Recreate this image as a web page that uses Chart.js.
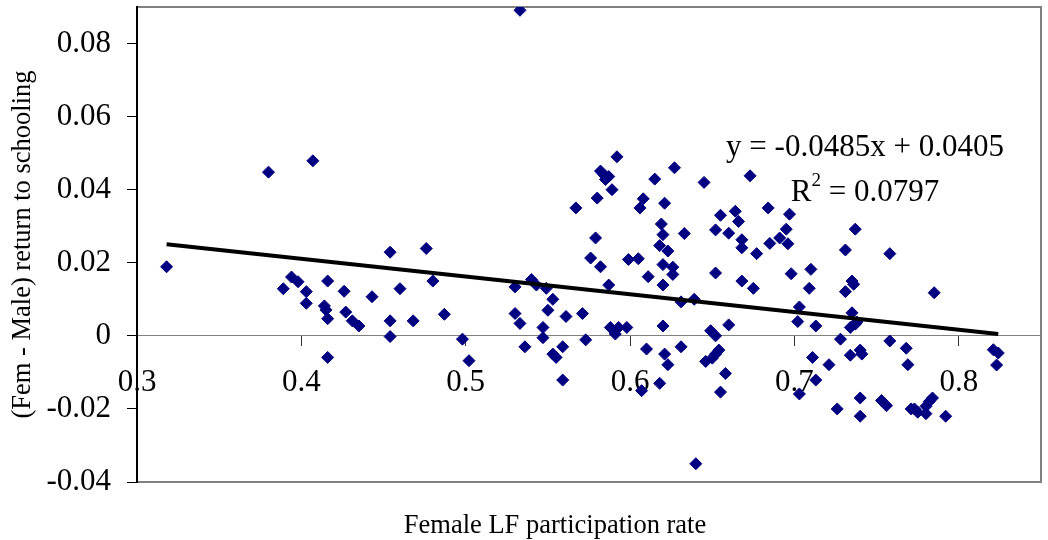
<!DOCTYPE html>
<html>
<head>
<meta charset="utf-8">
<script src="https://cdn.jsdelivr.net/npm/chart.js@4.4.1/dist/chart.umd.min.js"></script>
<style>
  html, body { margin: 0; padding: 0; background: #fff; }
  #wrap { width: 1048px; height: 540px; }
</style>
</head>
<body>
<div id="wrap"><canvas id="scatter" width="1048" height="540"></canvas></div>
<script>
// values
const femaleLF = [
  0.533, 0.380, 0.407, 0.318, 0.389, 0.394, 0.398, 0.403, 0.403, 0.416,
  0.414, 0.415, 0.416, 0.426, 0.427, 0.431, 0.435, 0.443, 0.454, 0.454,
  0.454, 0.460, 0.468, 0.476, 0.480, 0.487, 0.416, 0.498, 0.502, 0.530,
  0.540, 0.543, 0.549, 0.553, 0.550, 0.530, 0.533, 0.547, 0.547, 0.536,
  0.559, 0.553, 0.555, 0.573, 0.559, 0.561, 0.571, 0.588, 0.593, 0.598,
  0.591, 0.620, 0.610, 0.621, 0.623, 0.631, 0.618, 0.607, 0.649, 0.652,
  0.654, 0.652, 0.650, 0.646, 0.658, 0.655, 0.640, 0.660, 0.702, 0.713,
  0.734, 0.737, 0.728, 0.711, 0.721, 0.734, 0.740, 0.741, 0.758, 0.768,
  0.769, 0.713, 0.703, 0.726, 0.740, 0.740, 0.753, 0.756, 0.771, 0.773,
  0.775, 0.780, 0.780, 0.782, 0.784, 0.792, 0.821, 0.824, 0.823, 0.673,
  0.664, 0.666, 0.684, 0.697, 0.695, 0.691, 0.696, 0.685, 0.668, 0.668,
  0.677, 0.660, 0.737, 0.731, 0.758, 0.698, 0.710, 0.709, 0.668, 0.675,
  0.735, 0.736, 0.731, 0.785, 0.703, 0.735, 0.738, 0.592, 0.582, 0.584,
  0.587, 0.585, 0.589, 0.580, 0.567, 0.615, 0.627, 0.645, 0.608, 0.606,
  0.621, 0.619, 0.620, 0.633, 0.655, 0.652, 0.579, 0.576, 0.582, 0.599,
  0.605, 0.618, 0.623, 0.620, 0.626, 0.626, 0.611, 0.620, 0.652, 0.587,
  0.631, 0.639
];
const returnGap = [
  0.0891, 0.0448, 0.0479, 0.0189, 0.0129, 0.0161, 0.0148, 0.0121, 0.0089, 0.0150,
  0.0082, 0.0071, 0.0047, 0.0122, 0.0065, 0.0041, 0.0027, 0.0107, 0.0229, 0.0041,
  -0.0002, 0.0129, 0.0041, 0.0239, 0.0150, 0.0059, -0.0059, -0.0009, -0.0068, 0.0134,
  0.0154, 0.0139, 0.0130, 0.0100, 0.0070, 0.0061, 0.0034, 0.0023, -0.0005, -0.0030,
  -0.0030, -0.0050, -0.0059, -0.0011, -0.0121, 0.0053, 0.0061, 0.0023, 0.0023, 0.0023,
  0.0005, 0.0027, -0.0036, -0.0050, -0.0079, -0.0030, -0.0130, -0.0150, 0.0014, 0.0000,
  -0.0039, -0.0050, -0.0061, -0.0070, -0.0103, -0.0154, -0.0350, 0.0030, 0.0039, 0.0027,
  0.0023, 0.0032, -0.0009, -0.0059, -0.0079, -0.0053, -0.0039, -0.0050, -0.0014, -0.0034,
  -0.0079, -0.0121, -0.0159, -0.0200, -0.0170, -0.0220, -0.0177, -0.0191, -0.0200, -0.0200,
  -0.0209, -0.0213, -0.0193, -0.0180, -0.0170, -0.0220, -0.0038, -0.0047, -0.0080, 0.0438,
  0.0341, 0.0313, 0.0350, 0.0333, 0.0292, 0.0268, 0.0252, 0.0253, 0.0263, 0.0241,
  0.0225, 0.0281, 0.0292, 0.0235, 0.0225, 0.0170, 0.0182, 0.0130, 0.0150, 0.0130,
  0.0150, 0.0141, 0.0121, 0.0118, 0.0079, 0.0063, 0.0038, 0.0490, 0.0451, 0.0441,
  0.0436, 0.0428, 0.0400, 0.0377, 0.0350, 0.0429, 0.0460, 0.0420, 0.0375, 0.0350,
  0.0363, 0.0306, 0.0277, 0.0280, 0.0330, 0.0290, 0.0268, 0.0213, 0.0189, 0.0209,
  0.0211, 0.0247, 0.0232, 0.0195, 0.0188, 0.0168, 0.0162, 0.0139, 0.0172, 0.0139,
  0.0093, 0.0100
];
const xTicks = [0.3, 0.4, 0.5, 0.6, 0.7, 0.8];
const yTicks = [-0.04, -0.02, 0, 0.02, 0.04, 0.06, 0.08];
const trendSlope = -0.0485;
const trendIntercept = 0.0405;
const trendText = "y = -0.0485x + 0.0405";
const r2Text = "0.0797";

const serif = "'Liberation Serif', 'Times New Roman', serif";

const points = femaleLF.map((x, i) => ({ x: x, y: returnGap[i] }));
const xLo = Math.min(...femaleLF);
const xHi = Math.max(...femaleLF);
const trend = [
  { x: xLo, y: trendSlope * xLo + trendIntercept },
  { x: xHi, y: trendSlope * xHi + trendIntercept },
];

// frame round the plot area, x title and the trend equation
const extras = {
  id: "extras",
  beforeDraw(chart) {
    const { ctx, chartArea: a } = chart;
    ctx.save();
    ctx.strokeStyle = "#808080";
    ctx.lineWidth = 2;
    ctx.strokeRect(a.left, a.top, a.right - a.left, a.bottom - a.top);
    ctx.restore();
  },
  afterDraw(chart) {
    const { ctx } = chart;
    ctx.save();
    ctx.fillStyle = "#000";
    ctx.textBaseline = "alphabetic";
    ctx.textAlign = "center";
    ctx.font = "26.5px " + serif;
    ctx.fillText("Female LF participation rate", 555, 533);

    ctx.font = "31px " + serif;
    ctx.fillText(trendText, 865, 156);

    // R² with a raised 2
    const main = " = " + r2Text;
    const wR = ctx.measureText("R").width;
    const wM = ctx.measureText(main).width;
    ctx.font = "19px " + serif;
    const w2 = ctx.measureText("2").width;
    let x = 865 - (wR + w2 + wM) / 2;
    ctx.textAlign = "left";
    ctx.font = "31px " + serif;
    ctx.fillText("R", x, 201);
    ctx.font = "19px " + serif;
    ctx.fillText("2", x + wR, 186);
    ctx.font = "31px " + serif;
    ctx.fillText(main, x + wR + w2, 201);
    ctx.restore();
  },
};

new Chart(document.getElementById("scatter"), {
  type: "scatter",
  data: {
    datasets: [
      {
        label: "Return gap",
        data: points,
        pointStyle: "rectRot",
        pointRadius: 6,
        pointBorderWidth: 1,
        backgroundColor: "#000080",
        borderColor: "#000080",
        order: 2,
      },
      {
        type: "line",
        label: "Linear trend",
        data: trend,
        borderColor: "#000",
        borderWidth: 4,
        pointRadius: 0,
        fill: false,
        order: 1,
      },
    ],
  },
  options: {
    responsive: false,
    animation: false,
    layout: { padding: { left: 0, right: 4, top: 5, bottom: 58 } },
    plugins: {
      legend: { display: false },
      tooltip: { enabled: false },
    },
    scales: {
      x: {
        type: "linear",
        min: 0.3,
        max: 0.85,
        position: { y: 0 },
        afterBuildTicks: (s) => { s.ticks = xTicks.map((v) => ({ value: v })); },
        afterFit: (s) => {
          s.height = 0;
          s.paddingLeft = 0;
          s.paddingRight = 0;
        },
        border: { color: "#808080", width: 1 },
        grid: { drawOnChartArea: false, drawTicks: true, tickLength: 10, color: "#333" },
        ticks: {
          color: "#000",
          padding: 18,
          maxRotation: 0,
          font: { family: serif, size: 31 },
          callback: (v) => String(Number(v.toFixed(2))),
        },
      },
      y: {
        type: "linear",
        min: -0.04,
        max: 0.09,
        afterBuildTicks: (s) => { s.ticks = yTicks.map((v) => ({ value: v })); },
        afterFit: (s) => {
          s.width = 137;
          s.paddingTop = 0;
          s.paddingBottom = 0;
        },
        border: { color: "#000", width: 2 },
        grid: { drawOnChartArea: false, drawTicks: true, tickLength: 10, color: "#000" },
        ticks: {
          color: "#000",
          padding: 16,
          font: { family: serif, size: 31 },
          callback: (v) => String(Number(v.toFixed(2))),
        },
        title: {
          display: true,
          text: "(Fem - Male) return to schooling",
          color: "#000",
          font: { family: serif, size: 26.5 },
          padding: { top: 7, bottom: 0 },
        },
      },
    },
  },
  plugins: [extras],
});
</script>
</body>
</html>
